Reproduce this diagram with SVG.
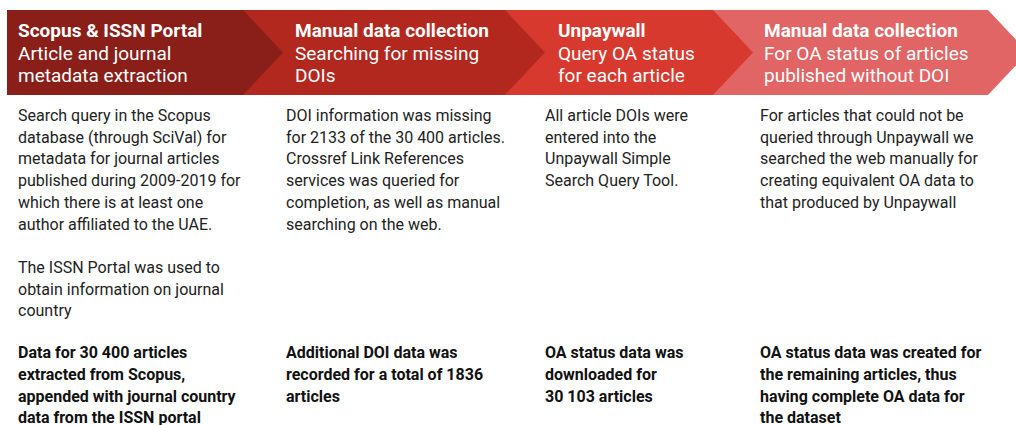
<svg xmlns="http://www.w3.org/2000/svg" width="1016" height="425" viewBox="0 0 1016 425">
<style>
.h{font-family:Roboto,"Liberation Sans",sans-serif;font-size:19px;fill:#fff}
.hb{font-weight:bold}
.b{font-family:Roboto,"Liberation Sans",sans-serif;font-size:16px;fill:#222}
.bb{font-family:Roboto,"Liberation Sans",sans-serif;font-size:16px;fill:#111;font-weight:bold}
</style>
<rect width="1016" height="425" fill="#fff"/>
<g id="step4">
<polygon points="713,10 988,10 1028,52.5 988,95 713,95" fill="#e06564"/>
<text class="h" x="764"><tspan class="hb" y="37">Manual data collection</tspan><tspan x="764" y="59.5">For OA status of articles</tspan><tspan x="764" y="82">published without DOI</tspan></text>
</g>
<g id="step3">
<polygon points="505,10 713,10 753,52.5 713,95 505,95" fill="#d8392e"/>
<text class="h" x="558"><tspan class="hb" y="37">Unpaywall</tspan><tspan x="558" y="59.5">Query OA status</tspan><tspan x="558" y="82">for each article</tspan></text>
</g>
<g id="step2">
<polygon points="243,10 505,10 545,52.5 505,95 243,95" fill="#b2281f"/>
<text class="h" x="295"><tspan class="hb" y="37">Manual data collection</tspan><tspan x="295" y="59.5">Searching for missing</tspan><tspan x="295" y="82">DOIs</tspan></text>
</g>
<g id="step1">
<polygon points="7,10 243,10 283,52.5 243,95 7,95" fill="#8a1f1a"/>
<text class="h" x="18"><tspan class="hb" y="37">Scopus &amp; ISSN Portal</tspan><tspan x="18" y="59.5">Article and journal</tspan><tspan x="18" y="82">metadata extraction</tspan></text>
</g>
<g id="connectors"></g>
<g id="desc1">
<text class="b"><tspan x="18" y="121">Search query in the Scopus</tspan><tspan x="18" y="142.7">database (through SciVal) for</tspan><tspan x="18" y="164.4">metadata for journal articles</tspan><tspan x="18" y="186.1">published during 2009-2019 for</tspan><tspan x="18" y="207.8">which there is at least one</tspan><tspan x="18" y="229.5">author affiliated to the UAE.</tspan><tspan x="18" y="272.9">The ISSN Portal was used to</tspan><tspan x="18" y="294.6">obtain information on journal</tspan><tspan x="18" y="316.3">country</tspan></text>
<text class="bb"><tspan x="18" y="358">Data for 30 400 articles</tspan><tspan x="18" y="380">extracted from Scopus,</tspan><tspan x="18" y="402">appended with journal country</tspan><tspan x="18" y="423">data from the ISSN portal</tspan></text>
</g>
<g id="desc2">
<text class="b"><tspan x="286" y="121">DOI information was missing</tspan><tspan x="286" y="142.7">for 2133 of the 30 400 articles.</tspan><tspan x="286" y="164.4">Crossref Link References</tspan><tspan x="286" y="186.1">services was queried for</tspan><tspan x="286" y="207.8">completion, as well as manual</tspan><tspan x="286" y="229.5">searching on the web.</tspan></text>
<text class="bb"><tspan x="286" y="358">Additional DOI data was</tspan><tspan x="286" y="380">recorded for a total of 1836</tspan><tspan x="286" y="402">articles</tspan></text>
</g>
<g id="desc3">
<text class="b"><tspan x="545" y="121">All article DOIs were</tspan><tspan x="545" y="142.7">entered into the</tspan><tspan x="545" y="164.4">Unpaywall Simple</tspan><tspan x="545" y="186.1">Search Query Tool.</tspan></text>
<text class="bb"><tspan x="545" y="358">OA status data was</tspan><tspan x="545" y="380">downloaded for</tspan><tspan x="545" y="402">30 103 articles</tspan></text>
</g>
<g id="desc4">
<text class="b"><tspan x="760" y="121">For articles that could not be</tspan><tspan x="760" y="142.7">queried through Unpaywall we</tspan><tspan x="760" y="164.4">searched the web manually for</tspan><tspan x="760" y="186.1">creating equivalent OA data to</tspan><tspan x="760" y="207.8">that produced by Unpaywall</tspan></text>
<text class="bb"><tspan x="760" y="358">OA status data was created for</tspan><tspan x="760" y="380">the remaining articles, thus</tspan><tspan x="760" y="402">having complete OA data for</tspan><tspan x="760" y="423">the dataset</tspan></text>
</g>
</svg>
